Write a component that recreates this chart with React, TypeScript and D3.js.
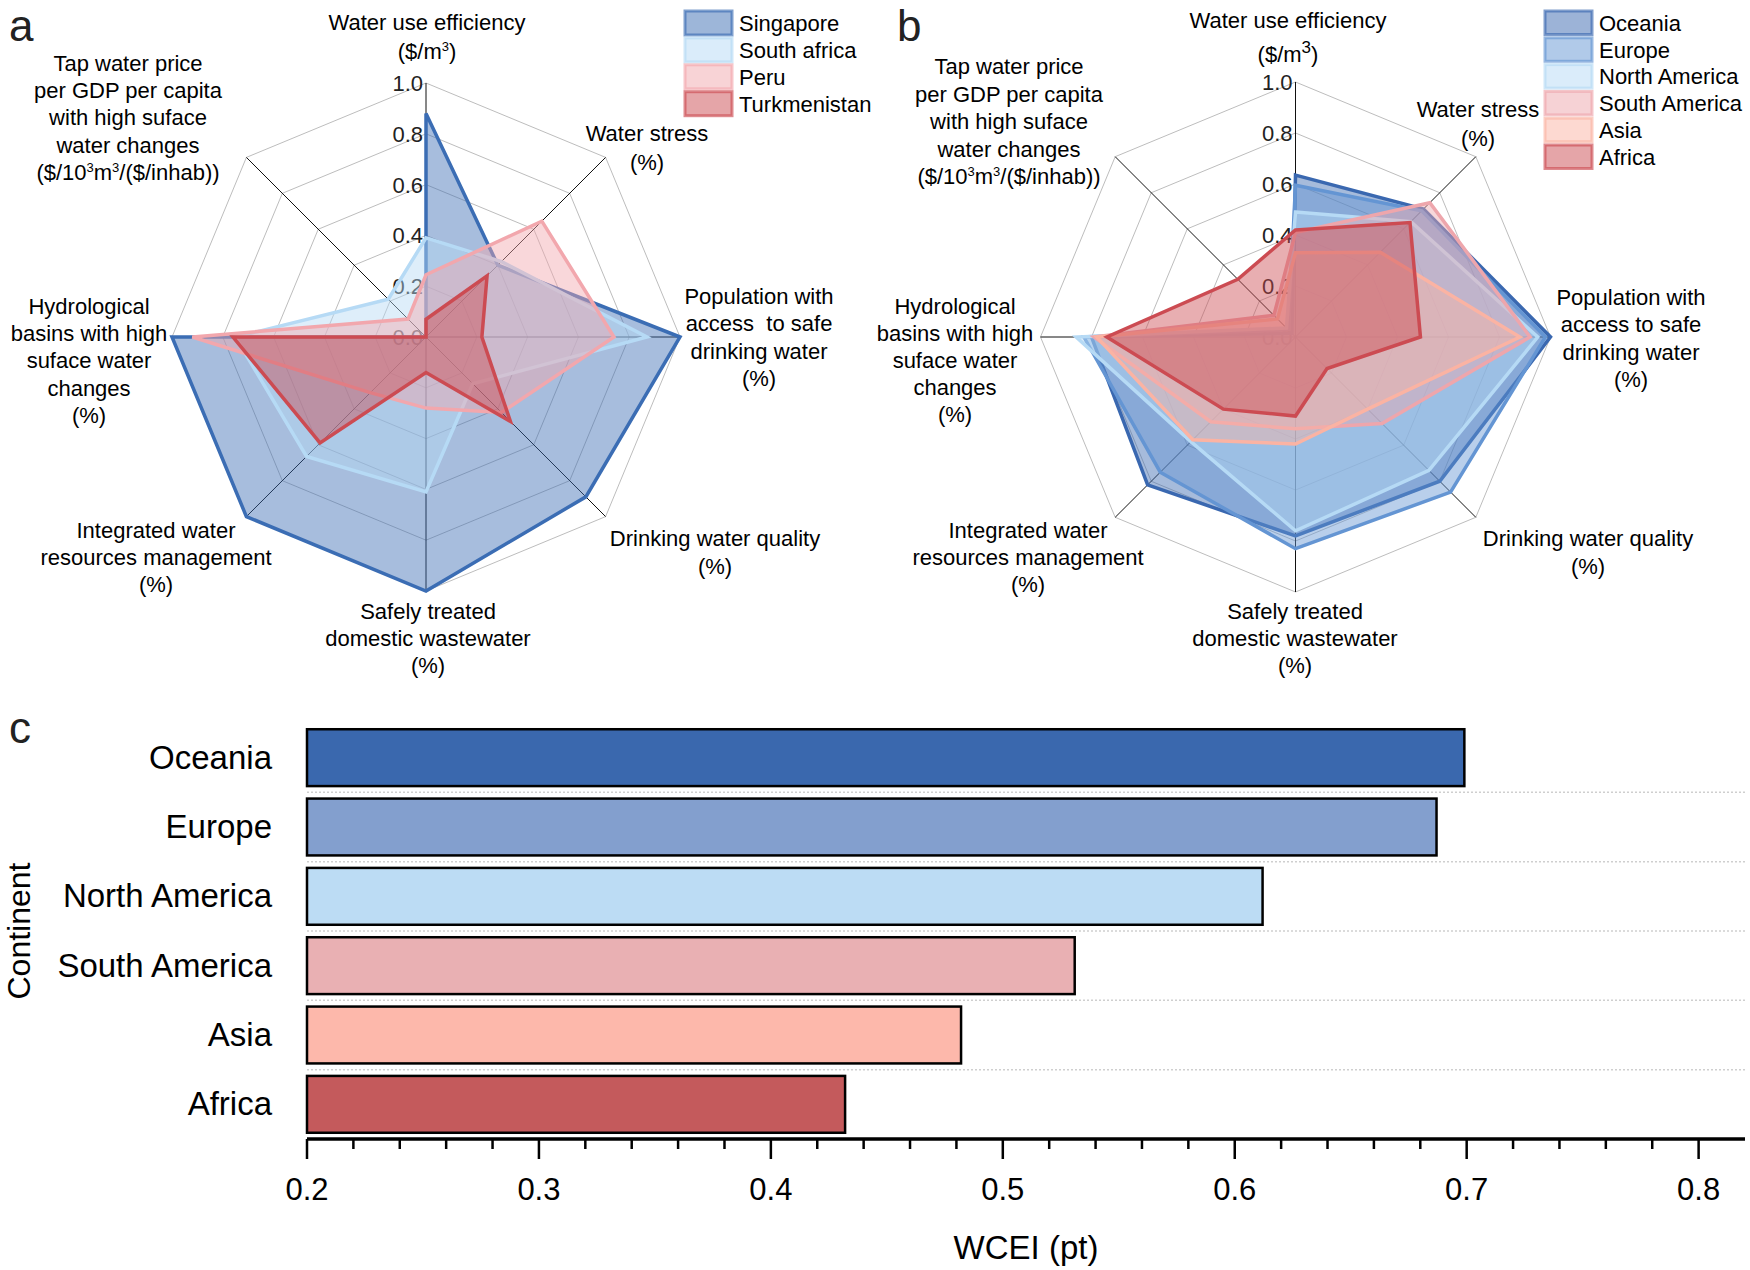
import React from 'react';
import * as d3 from 'd3';

const FONT = '"Liberation Sans", Arial, Helvetica, sans-serif';

// ---------- Radar data (axis order clockwise from top) ----------
const radarAxes = [
  'Water use efficiency',
  'Water stress',
  'Population with access to safe drinking water',
  'Drinking water quality',
  'Safely treated domestic wastewater',
  'Integrated water resources management',
  'Hydrological basins with high suface water changes',
  'Tap water price per GDP per capita with high suface water changes',
];
const radarTicks = [0, 0.2, 0.4, 0.6, 0.8, 1.0];
const radarRings = [0.2, 0.4, 0.6, 0.8, 1.0];

const countries = ['Singapore', 'South africa', 'Peru', 'Turkmenistan'];
const singaporeValues = [0.88, 0.4, 1.0, 0.89, 1.0, 1.0, 1.0, 0.0];
const southAfricaValues = [0.39, 0.42, 0.87, 0.26, 0.61, 0.665, 0.75, 0.21];
const peruValues = [0.245, 0.645, 0.74, 0.42, 0.28, 0.31, 0.92, 0.1];
const turkmenistanValues = [0.07, 0.34, 0.22, 0.47, 0.14, 0.59, 0.76, 0.0];

const continents = ['Oceania', 'Europe', 'North America', 'South America', 'Asia', 'Africa'];
const oceaniaValues = [0.635, 0.71, 1.0, 0.8, 0.78, 0.82, 0.8, 0.02];
const europeValues = [0.595, 0.7, 0.98, 0.86, 0.83, 0.75, 0.83, 0.04];
const northAmericaValues = [0.49, 0.64, 0.95, 0.74, 0.76, 0.58, 0.86, 0.05];
const southAmericaValues = [0.41, 0.745, 0.92, 0.48, 0.36, 0.47, 0.79, 0.12];
const asiaValues = [0.33, 0.47, 0.88, 0.4, 0.42, 0.57, 0.78, 0.1];
const africaValues = [0.42, 0.635, 0.49, 0.175, 0.31, 0.4, 0.74, 0.32];

// ---------- Bar data ----------
const wceiValues = [0.699, 0.687, 0.612, 0.531, 0.482, 0.432];
const wceiTicks = [0.2, 0.3, 0.4, 0.5, 0.6, 0.7, 0.8];

// ---------- Label text ----------
const labelLinesA = [
  ['Water use efficiency', '($/m^3)'],
  ['Water stress', '(%)'],
  ['Population with', 'access  to safe', 'drinking water', '(%)'],
  ['Drinking water quality', '(%)'],
  ['Safely treated', 'domestic wastewater', '(%)'],
  ['Integrated water', 'resources management', '(%)'],
  ['Hydrological', 'basins with high', 'suface water', 'changes', '(%)'],
  ['Tap water price', 'per GDP per capita', 'with high suface', 'water changes', '($/10^3m^3/($/inhab))'],
];
const labelLinesB = [
  ['Water use efficiency', '($/m^^3)'],
  ['Water stress', '(%)'],
  ['Population with', 'access to safe', 'drinking water', '(%)'],
  ['Drinking water quality', '(%)'],
  ['Safely treated', 'domestic wastewater', '(%)'],
  ['Integrated water', 'resources management', '(%)'],
  ['Hydrological', 'basins with high', 'suface water', 'changes', '(%)'],
  ['Tap water price', 'per GDP per capita', 'with high suface', 'water changes', '($/10^3m^3/($/inhab))'],
];

// layout: [x, firstLineCenterY, lineSpacing]
const labelLayoutA: [number, number, number][] = [
  [427, 21.5, 29.5],
  [647, 133, 29],
  [759, 296, 27.3],
  [715, 538, 28],
  [428, 611, 27],
  [156, 530, 27],
  [89, 306, 27.2],
  [128, 62.5, 27.4],
];
const labelLayoutB: [number, number, number][] = [
  [1288, 20, 34],
  [1478, 109, 28.5],
  [1631, 297, 27.3],
  [1588, 538, 27.6],
  [1295, 611, 27],
  [1028, 530, 27],
  [955, 306, 27],
  [1009, 66, 27.6],
];

const colorsA = ['#3b6db4', '#b6daf5', '#f2a7ad', '#cc4b52'];
const colorsB = ['#3a68b0', '#6495d3', '#b6daf5', '#eea6ac', '#fbb3a3', '#cc4b52'];
const barColors = ['#3a68ae', '#839fce', '#bcdcf4', '#e9b0b3', '#fdb8ab', '#c45a5c'];

function LabelLine({ x, y, text }: { x: number; y: number; text: string }) {
  // '^^' marks a large superscript, '^' a small one
  const parts = text.split(/(\^\^?\d)/).filter((p) => p.length > 0);
  const nodes: React.ReactNode[] = [];
  let shifted = 0;
  parts.forEach((p, k) => {
    if (p.startsWith('^')) {
      const big = p.startsWith('^^');
      const ch = p.replace(/\^/g, '');
      const fs = big ? 17 : 13;
      const up = big ? 9 : 8;
      nodes.push(
        <tspan key={k} dy={-up - shifted} fontSize={fs}>
          {ch}
        </tspan>
      );
      shifted = -up;
    } else {
      nodes.push(
        <tspan key={k} dy={-shifted}>
          {p}
        </tspan>
      );
      shifted = 0;
    }
  });
  return (
    <text x={x} y={y + 8} textAnchor="middle" fontSize={22} fill="#000" xmlSpace="preserve" style={{ whiteSpace: 'pre' }}>
      {nodes}
    </text>
  );
}

function Radar({
  cx,
  cy,
  R,
  series,
  colors,
  lines,
  layout,
}: {
  cx: number;
  cy: number;
  R: number;
  series: number[][];
  colors: string[];
  lines: string[][];
  layout: [number, number, number][];
}) {
  const n = radarAxes.length;
  const r = d3.scaleLinear().domain([0, 1]).range([0, R]);
  const angle = (i: number) => (i * 2 * Math.PI) / n;
  const radial = d3
    .lineRadial<number>()
    .angle((_, i) => angle(i))
    .radius((d) => r(d))
    .curve(d3.curveLinearClosed);
  return (
    <g>
      <g transform={`translate(${cx},${cy})`}>
        {radarRings.map((lv) => (
          <path key={lv} d={radial(radarAxes.map(() => lv)) || ''} fill="none" stroke="#bdbdbd" strokeWidth={1} />
        ))}
        {radarAxes.map((_, i) => (
          <line
            key={i}
            x1={0}
            y1={0}
            x2={r(1) * Math.sin(angle(i))}
            y2={-r(1) * Math.cos(angle(i))}
            stroke="#111"
            strokeWidth={1}
          />
        ))}
      </g>
      {radarTicks.map((t) => (
        <text key={t} x={cx - 3} y={cy - r(t) + 8} textAnchor="end" fontSize={22} fill="#222">
          {t.toFixed(1)}
        </text>
      ))}
      <g transform={`translate(${cx},${cy})`}>
        {series.map((s, k) => (
          <path
            key={k}
            d={radial(s) || ''}
            fill={colors[k]}
            fillOpacity={0.45}
            stroke={colors[k]}
            strokeWidth={3.5}
            strokeLinejoin="miter"
          />
        ))}
      </g>
      {lines.map((ls, i) =>
        ls.map((t, j) => <LabelLine key={`${i}-${j}`} x={layout[i][0]} y={layout[i][1] + j * layout[i][2]} text={t} />)
      )}
    </g>
  );
}

function Legend({ x, y, names, colors, step, w, h }: { x: number; y: number; names: string[]; colors: string[]; step: number; w: number; h: number }) {
  return (
    <g>
      {names.map((nm, i) => (
        <g key={nm}>
          <rect
            x={x}
            y={y + i * step}
            width={w}
            height={h}
            fill={colors[i]}
            fillOpacity={0.5}
            stroke={colors[i]}
            strokeOpacity={0.65}
            strokeWidth={3}
          />
          <text x={x + w + 7} y={y + i * step + h / 2 + 8} fontSize={22} fill="#000">
            {nm}
          </text>
        </g>
      ))}
    </g>
  );
}

function BarChart() {
  const x = d3.scaleLinear().domain([0.2, 0.82]).range([307, 1745]);
  const y = d3.scaleBand<string>().domain(continents).range([723, 1139]).paddingInner(0.18).paddingOuter(0.09);
  const axisY = 1139;
  const minor = d3.range(0.2, 0.8001, 0.02).filter((v) => Math.abs(v * 10 - Math.round(v * 10)) > 1e-6);
  const gaps = continents.slice(0, -1).map((c) => (y(c) as number) + y.bandwidth() + (y.step() - y.bandwidth()) / 2);
  return (
    <g>
      {gaps.map((g, i) => (
        <line key={i} x1={x(0.2)} x2={x(0.82)} y1={g} y2={g} stroke="#cfcfcf" strokeWidth={1.5} strokeDasharray="2,2" />
      ))}
      {continents.map((c, i) => (
        <rect
          key={c}
          x={x(0.2)}
          y={y(c)}
          width={x(wceiValues[i]) - x(0.2)}
          height={y.bandwidth()}
          fill={barColors[i]}
          stroke="#000"
          strokeWidth={2.5}
        />
      ))}
      {continents.map((c) => (
        <text key={c} x={272} y={(y(c) as number) + y.bandwidth() / 2 + 11} textAnchor="end" fontSize={33} fill="#000">
          {c}
        </text>
      ))}
      <line x1={x(0.2)} x2={x(0.82)} y1={axisY} y2={axisY} stroke="#000" strokeWidth={3.5} />
      {wceiTicks.map((t) => (
        <g key={t}>
          <line x1={x(t)} x2={x(t)} y1={axisY} y2={axisY + 20} stroke="#000" strokeWidth={2.5} />
          <text x={x(t)} y={axisY + 61} textAnchor="middle" fontSize={31} fill="#000">
            {t.toFixed(1)}
          </text>
        </g>
      ))}
      {minor.map((t, i) => (
        <line key={i} x1={x(t)} x2={x(t)} y1={axisY} y2={axisY + 10} stroke="#000" strokeWidth={2.5} />
      ))}
      <text x={(x(0.2) + x(0.82)) / 2} y={1259} textAnchor="middle" fontSize={33} fill="#000">
        WCEI (pt)
      </text>
      <text transform={`translate(30,${(723 + 1139) / 2}) rotate(-90)`} textAnchor="middle" fontSize={32} fill="#000">
        Continent
      </text>
    </g>
  );
}

export default function App() {
  const seriesA = [singaporeValues, southAfricaValues, peruValues, turkmenistanValues];
  const seriesB = [oceaniaValues, europeValues, northAmericaValues, southAmericaValues, asiaValues, africaValues];
  return (
    <svg
      width={1750}
      height={1270}
      viewBox="0 0 1750 1270"
      style={{ position: 'absolute', left: 0, top: 0, background: '#fff' }}
      fontFamily={FONT}
    >
      <rect x={0} y={0} width={1750} height={1270} fill="#fff" />
      <Radar cx={426} cy={337} R={254} series={seriesA} colors={colorsA} lines={labelLinesA} layout={labelLayoutA} />
      <Radar cx={1295.5} cy={337} R={255} series={seriesB} colors={colorsB} lines={labelLinesB} layout={labelLayoutB} />
      <Legend x={685} y={11} names={countries} colors={colorsA} step={26.9} w={47} h={24} />
      <Legend x={1545} y={11} names={continents} colors={colorsB} step={26.8} w={47} h={23.5} />
      <BarChart />
      <text x={9} y={41} fontSize={44} fill="#222">a</text>
      <text x={897} y={41} fontSize={44} fill="#222">b</text>
      <text x={9} y={743} fontSize={44} fill="#222">c</text>
    </svg>
  );
}
